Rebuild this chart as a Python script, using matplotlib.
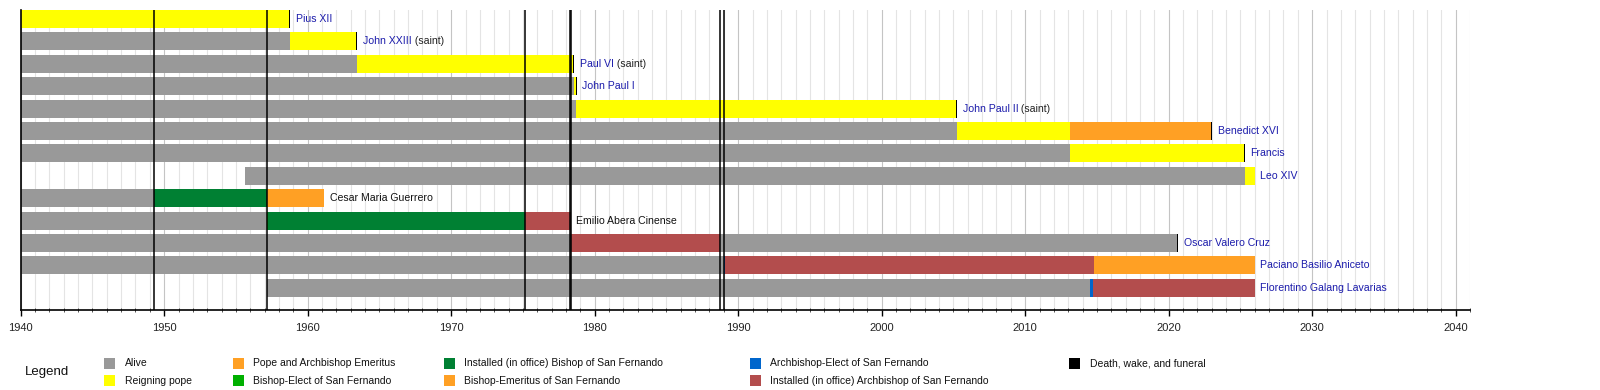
import matplotlib
matplotlib.use("Agg")
import matplotlib.pyplot as plt
from matplotlib.patches import Rectangle
from matplotlib.ticker import MultipleLocator

plt.rcParams['font.family'] = ['Liberation Sans', 'DejaVu Sans']

# ---------------- data ----------------
names = ["Pius XII", "John XXIII", "Paul VI", "John Paul I", "John Paul II",
         "Benedict XVI", "Francis", "Leo XIV", "Cesar Maria Guerrero",
         "Emilio Abera Cinense", "Oscar Valero Cruz", "Paciano Basilio Aniceto",
         "Florentino Galang Lavarias"]
name_suffix = ["", " (saint)", " (saint)", "", " (saint)", "", "", "", "", "", "", "", ""]
name_linked = [True, True, True, True, True, True, True, True, False, False, True, True, True]

segments = [
    [(1940, 1958.70, 'pope'), (1958.70, 1958.77, 'death')],
    [(1940, 1958.78, 'alive'), (1958.78, 1963.39, 'pope'), (1963.39, 1963.46, 'death')],
    [(1940, 1963.42, 'alive'), (1963.42, 1978.50, 'pope'), (1978.50, 1978.59, 'death')],
    [(1940, 1978.57, 'alive'), (1978.57, 1978.68, 'pope'), (1978.68, 1978.75, 'death')],
    [(1940, 1978.70, 'alive'), (1978.70, 2005.18, 'pope'), (2005.18, 2005.26, 'death')],
    [(1940, 2005.22, 'alive'), (2005.22, 2013.12, 'pope'), (2013.12, 2022.95, 'popeemer'),
     (2022.95, 2023.03, 'death')],
    [(1940, 2013.12, 'alive'), (2013.12, 2025.25, 'pope'), (2025.25, 2025.32, 'death')],
    [(1955.62, 2025.32, 'alive'), (2025.32, 2026.0, 'pope')],
    [(1940, 1949.31, 'alive'), (1949.31, 1957.14, 'bishop'), (1957.14, 1961.17, 'bishopemer')],
    [(1940, 1957.14, 'alive'), (1957.14, 1957.20, 'bishopelect'), (1957.20, 1975.14, 'bishop'),
     (1975.14, 1978.33, 'archbishop')],
    [(1940, 1978.33, 'alive'), (1978.33, 1988.75, 'archbishop'), (1988.75, 2020.58, 'alive'),
     (2020.58, 2020.65, 'death')],
    [(1940, 1988.99, 'alive'), (1988.99, 1989.06, 'archelect'), (1989.06, 2014.78, 'archbishop'),
     (2014.78, 2026.0, 'popeemer')],
    [(1957.14, 2014.55, 'alive'), (2014.55, 2014.76, 'archelect'), (2014.76, 2026.0, 'archbishop')],
]

event_lines = [1949.31, 1957.14, 1975.14, 1978.31, 1978.36, 1988.75, 1988.99]

legend_keys = [['alive', 'pope'], ['popeemer', 'bishopelect'], ['bishop', 'bishopemer'],
               ['archelect', 'archbishop'], ['death']]
legend_labels = {
    'alive': 'Alive', 'pope': 'Reigning pope', 'popeemer': 'Pope and Archbishop Emeritus',
    'bishopelect': 'Bishop-Elect of San Fernando',
    'bishop': 'Installed (in office) Bishop of San Fernando',
    'bishopemer': 'Bishop-Emeritus of San Fernando',
    'archelect': 'Archbishop-Elect of San Fernando',
    'archbishop': 'Installed (in office) Archbishop of San Fernando',
    'death': 'Death, wake, and funeral',
}

colors = {
    'alive': '#999999', 'pope': '#ffff00', 'popeemer': '#ffa024', 'bishopelect': '#00b000',
    'bishop': '#008033', 'bishopemer': '#ffa024', 'archelect': '#0066cc',
    'archbishop': '#b34d4d', 'death': '#000000',
}

# ---------------- figure ----------------
W, H = 1600, 390
fig = plt.figure(figsize=(W / 100, H / 100), dpi=100)
x0, x1, ytop, ybot = 20.7, 1470.0, 10.0, 310.0
ax = fig.add_axes([x0 / W, (H - ybot) / H, (x1 - x0) / W, (ybot - ytop) / H])
ax.set_xlim(1940, 2041)
ax.set_ylim(12.99, -0.4)

ax.xaxis.set_major_locator(MultipleLocator(10))
ax.xaxis.set_minor_locator(MultipleLocator(1))
ax.grid(True, which='minor', axis='x', color='#e4e4e4', lw=0.8, zorder=0)
ax.grid(True, which='major', axis='x', color='#c4c4c4', lw=0.8, zorder=0)
ax.set_axisbelow(True)
ax.set_yticks([])
for s in ['top', 'right']:
    ax.spines[s].set_visible(False)
ax.spines['left'].set_linewidth(1.2)
ax.spines['bottom'].set_linewidth(1.2)
ax.tick_params(axis='x', which='major', direction='out', length=4, width=1, pad=5.5,
               labelsize=8, labelcolor='#222222')
ax.tick_params(axis='x', which='minor', direction='inout', length=3.5, width=0.6,
               color='#333333')

bar_h = 0.81
for i, segs in enumerate(segments):
    for (a, b, k) in segs:
        ax.barh(i, b - a, left=a, height=bar_h, color=colors[k], lw=0, zorder=2)

for xv in event_lines:
    ax.axvline(xv, color='black', lw=1.1, zorder=4)

link_color = '#1c1cab'
for i, segs in enumerate(segments):
    end = max(b for (_, b, _) in segs)
    t = ax.annotate(names[i], xy=(end, i), xytext=(4, 0), textcoords='offset points',
                    va='center', ha='left', fontsize=7.6,
                    color=link_color if name_linked[i] else '#111111', zorder=5)
    if name_suffix[i]:
        ax.annotate(name_suffix[i], xy=(1, 0.5), xycoords=t, va='center', ha='left',
                    fontsize=7.6, color='#222222', zorder=5)

# ---------------- legend ----------------
fig.text(24.5 / W, 1 - 371.5 / H, 'Legend', fontsize=9.5, va='center', ha='left', color='#111111')
sw_x = [104, 232.7, 444, 750, 1069.4]
row_y = [363.3, 380.6]
sw = 11.0
for c, keys in enumerate(legend_keys):
    for r, k in enumerate(keys):
        yc = row_y[r]
        fig.patches.append(Rectangle((sw_x[c] / W, 1 - (yc + sw / 2) / H), sw / W, sw / H,
                                     transform=fig.transFigure, color=colors[k], lw=0))
        fig.text((sw_x[c] + 20.5) / W, 1 - yc / H, legend_labels[k], fontsize=7.5,
                 va='center', ha='left', color='#111111')

fig.savefig('out.png', dpi=100)
